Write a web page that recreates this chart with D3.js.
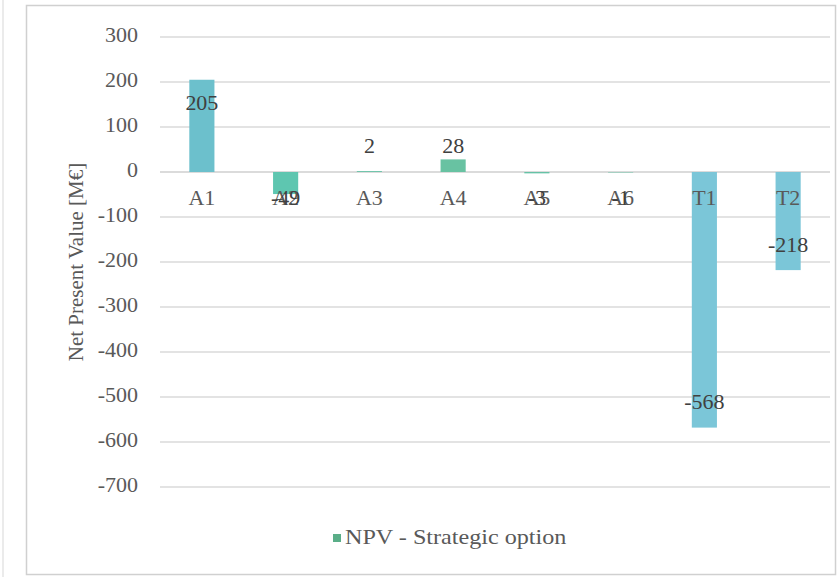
<!DOCTYPE html>
<html><head><meta charset="utf-8">
<script src="https://cdn.jsdelivr.net/npm/d3@7"></script>
<style>body{margin:0;background:#fff;} svg{display:block;} text{font-family:"Liberation Serif","DejaVu Serif",serif;}</style>
</head><body>
<script>
const categories = ["A1","A2","A3","A4","A5","A6","T1","T2"];
const npvValues = [205,-49,2,28,-3,-1,-568,-218];
const barColors = ["#6cc0cc","#5ec6b0","#66c2a6","#68c2a2","#66c2a6","#66c2a6","#7bc6d8","#7bc6d8"];
const yTicks = [300,200,100,0,-100,-200,-300,-400,-500,-600,-700];
const seriesName = "NPV - Strategic option";
const yTitle = "Net Present Value [M€]";

const W = 838, H = 577;
const FS = 20, SX = 1.1;
const svg = d3.select("body").append("svg").attr("width", W).attr("height", H);
const font = '"Liberation Serif","DejaVu Serif",serif';

// place text with a slight horizontal stretch
function put(sel, fx, fy, fs = FS, sx = SX) {
  sel.attr("transform", (d,i) => `translate(${fx(d,i)},${fy(d,i)}) scale(${sx},1)`)
     .attr("x",0).attr("y",0)
     .style("font-family", font).attr("font-size", fs);
}

// outer frames
svg.append("rect").attr("x",2.5).attr("y",-2).attr("width",1).attr("height",H+4).attr("fill","#d8d8d8");
svg.append("rect").attr("x",26.5).attr("y",5.5).attr("width",809).attr("height",569)
  .attr("fill","#fff").attr("stroke","#d0d0d0").attr("stroke-width",1.5);

const x = d3.scaleBand().domain(categories).range([160, 830]).paddingInner(0.7).paddingOuter(0.35);
const y = d3.scaleLinear().domain([-700, 300]).range([487, 37]);

// gridlines
svg.append("g").selectAll("line").data(yTicks).join("line")
  .attr("x1",160).attr("x2",830)
  .attr("y1",d=>y(d)).attr("y2",d=>y(d))
  .attr("stroke",d=>d===0?"#cfcfcf":"#dadada").attr("stroke-width",1.5);

// y axis labels
const yAxis = d3.axisLeft(y).tickValues(yTicks).tickSize(0).tickPadding(0).tickFormat(d=>d);
const gy = svg.append("g").call(yAxis);
gy.select(".domain").remove();
gy.selectAll(".tick").attr("transform", null);
put(gy.selectAll(".tick text").attr("dy",null).attr("dominant-baseline","middle").attr("text-anchor","end").attr("fill","#595959"),
    () => 138, d => y(d));

// axis title
svg.append("text").attr("transform","translate(78,262) rotate(-90)")
  .attr("text-anchor","middle").attr("dominant-baseline","middle")
  .style("font-family",font).attr("font-size",21).attr("fill","#595959").text(yTitle);

// bars
const data = categories.map((c,i)=>({c, v:npvValues[i], col:barColors[i]}));
svg.append("g").selectAll("rect").data(data).join("rect")
  .attr("x",d=>x(d.c)).attr("width",x.bandwidth())
  .attr("y",d=>y(Math.max(0,d.v))).attr("height",d=>Math.abs(y(d.v)-y(0)))
  .attr("fill",d=>d.col);

// category labels (at axis)
put(svg.append("g").selectAll("text").data(data).join("text")
  .attr("text-anchor","middle").attr("dominant-baseline","middle")
  .attr("fill","#595959").text(d=>d.c),
  d => x(d.c)+x.bandwidth()/2, () => y(0)+28);

// value labels
put(svg.append("g").selectAll("text").data(data).join("text")
  .attr("text-anchor","middle").attr("dominant-baseline","middle")
  .attr("fill","#404040").text(d=>d.v),
  d => x(d.c)+x.bandwidth()/2,
  d => {
    const h = Math.abs(y(d.v)-y(0));
    if (h > 40) return d.v>0 ? y(d.v)+26 : y(d.v)-23;
    return d.v>=0 ? y(0)-24 : y(0)+28;
  });

// legend
svg.append("rect").attr("x",333).attr("y",534).attr("width",8).attr("height",8).attr("fill","#5aae88");
put(svg.append("text").attr("dominant-baseline","middle").attr("fill","#595959").text(seriesName),
  () => 345, () => 539, 21, 1.15);
</script>
</body></html>
